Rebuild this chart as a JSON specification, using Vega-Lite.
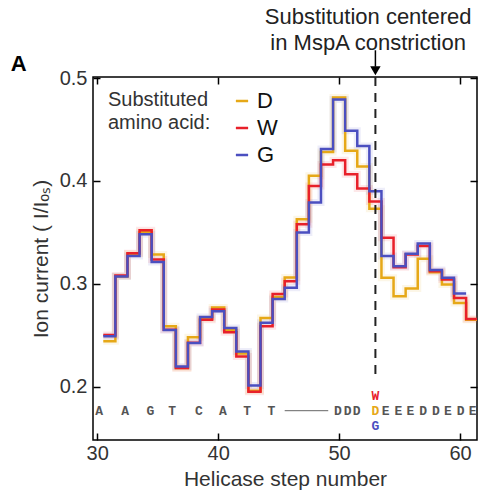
{
  "$schema": "https://vega.github.io/schema/vega-lite/v6.json",
  "width": 384,
  "height": 363,
  "autosize": {"type": "none"},
  "padding": {"left": 93, "top": 77, "right": 7, "bottom": 59},
  "config": {
    "view": {"stroke": "black", "strokeWidth": 1.5},
    "font": "Liberation Sans"
  },
  "datasets": {
    "steps": [
      {"x": 30.5, "D": 0.244, "W": 0.250, "G": 0.249},
      {"x": 31.5, "D": 0.307, "W": 0.308, "G": 0.307},
      {"x": 32.5, "D": 0.329, "W": 0.3295, "G": 0.327},
      {"x": 33.5, "D": 0.350, "W": 0.352, "G": 0.348},
      {"x": 34.5, "D": 0.3285, "W": 0.3236, "G": 0.321},
      {"x": 35.5, "D": 0.2585, "W": 0.2553, "G": 0.255},
      {"x": 36.5, "D": 0.218, "W": 0.218, "G": 0.2195},
      {"x": 37.5, "D": 0.2478, "W": 0.2425, "G": 0.2423},
      {"x": 38.5, "D": 0.266, "W": 0.265, "G": 0.2677},
      {"x": 39.5, "D": 0.2768, "W": 0.275, "G": 0.2732},
      {"x": 40.5, "D": 0.255, "W": 0.2527, "G": 0.257},
      {"x": 41.5, "D": 0.232, "W": 0.2293, "G": 0.234},
      {"x": 42.5, "D": 0.196, "W": 0.195, "G": 0.201},
      {"x": 43.5, "D": 0.2667, "W": 0.2585, "G": 0.262},
      {"x": 44.5, "D": 0.287, "W": 0.290, "G": 0.285},
      {"x": 45.5, "D": 0.306, "W": 0.3024, "G": 0.296},
      {"x": 46.5, "D": 0.3626, "W": 0.3578, "G": 0.3497},
      {"x": 47.5, "D": 0.405, "W": 0.395, "G": 0.379},
      {"x": 48.5, "D": 0.428, "W": 0.416, "G": 0.431},
      {"x": 49.5, "D": 0.481, "W": 0.420, "G": 0.479},
      {"x": 50.5, "D": 0.4293, "W": 0.4065, "G": 0.4488},
      {"x": 51.5, "D": 0.414, "W": 0.3926, "G": 0.434},
      {"x": 52.5, "D": 0.373, "W": 0.380, "G": 0.390},
      {"x": 53.5, "D": 0.3057, "W": 0.3448, "G": 0.327},
      {"x": 54.5, "D": 0.2878, "W": 0.316, "G": 0.317},
      {"x": 55.5, "D": 0.2953, "W": 0.3285, "G": 0.3292},
      {"x": 56.5, "D": 0.3243, "W": 0.3366, "G": 0.339},
      {"x": 57.5, "D": 0.3112, "W": 0.3122, "G": 0.3132},
      {"x": 58.5, "D": 0.2992, "W": 0.304, "G": 0.3057},
      {"x": 59.5, "D": 0.2813, "W": 0.2862, "G": 0.2904},
      {"x": 60.5, "D": 0.265, "W": 0.2657, "G": 0.2904},
      {"x": 61.5, "D": 0.265, "W": 0.2657, "G": null}
    ],
    "seq": [
      {"p": 30.15, "l": "A"}, {"p": 32.3, "l": "A"}, {"p": 34.4, "l": "G"},
      {"p": 36.2, "l": "T"}, {"p": 38.4, "l": "C"}, {"p": 40.4, "l": "A"},
      {"p": 42.4, "l": "T"}, {"p": 44.4, "l": "T"},
      {"p": 49.9, "l": "D"}, {"p": 50.7, "l": "D"}, {"p": 51.45, "l": "D"},
      {"p": 53.85, "l": "E"}, {"p": 54.9, "l": "E"}, {"p": 55.9, "l": "E"},
      {"p": 56.95, "l": "D"}, {"p": 58.0, "l": "D"}, {"p": 59.0, "l": "E"},
      {"p": 60.05, "l": "D"}, {"p": 61.05, "l": "E"}
    ],
    "one": [{}]
  },
  "layer": [
    {
      "data": {"name": "steps"},
      "transform": [{"fold": ["D", "W", "G"], "as": ["sub", "v"]}],
      "mark": {"type": "line", "interpolate": "step-after", "strokeWidth": 7, "opacity": 0.1, "clip": true},
      "encoding": {
        "x": {
          "field": "x", "type": "quantitative",
          "scale": {"domain": [29.65, 61.4], "nice": false, "zero": false},
          "axis": {
            "orient": "bottom", "values": [30, 40, 50, 60], "format": "d",
            "tickSize": -7, "tickWidth": 1.5, "tickColor": "black", "domain": false, "grid": false,
            "labelFontSize": 20, "labelColor": "#333", "labelPadding": 10,
            "title": "Helicase step number", "titleFontSize": 21, "titleFontWeight": "normal",
            "titleColor": "#333", "titlePadding": 5
          }
        },
        "y": {
          "field": "v", "type": "quantitative",
          "scale": {"domain": [0.148, 0.501], "nice": false, "zero": false},
          "axis": {
            "orient": "left", "values": [0.2, 0.3, 0.4, 0.5], "format": ".1f",
            "tickSize": -7, "tickWidth": 1.5, "tickColor": "black", "domain": false, "grid": false,
            "labelFontSize": 20, "labelColor": "#333", "labelPadding": 13,
            "title": "Ion current ( I/Iₒₛ)", "titleFontSize": 21, "titleFontWeight": "normal",
            "titleColor": "#333", "titlePadding": 8
          }
        },
        "color": {
          "field": "sub", "type": "nominal",
          "scale": {"domain": ["D", "W", "G"], "range": ["#e6a817", "#e8202a", "#4b4fc0"]},
          "legend": null
        }
      }
    },
    {
      "data": {"name": "steps"},
      "transform": [{"fold": ["D", "W", "G"], "as": ["sub", "v"]}],
      "mark": {"type": "line", "interpolate": "step-after", "strokeWidth": 2.5, "clip": true},
      "encoding": {
        "x": {
          "field": "x", "type": "quantitative",
          "axis": {
            "orient": "top", "values": [30, 40, 50, 60], "labels": false, "title": null,
            "tickSize": -7, "tickWidth": 1.5, "tickColor": "black", "domain": false, "grid": false
          }
        },
        "y": {
          "field": "v", "type": "quantitative",
          "axis": {
            "orient": "right", "values": [0.2, 0.3, 0.4, 0.5], "labels": false, "title": null,
            "tickSize": -7, "tickWidth": 1.5, "tickColor": "black", "domain": false, "grid": false
          }
        },
        "color": {
          "field": "sub", "type": "nominal",
          "scale": {"domain": ["D", "W", "G"], "range": ["#e6a817", "#e8202a", "#4b4fc0"]},
          "legend": {
            "orient": "none", "legendX": 15, "legendY": 13,
            "title": ["Substituted", "amino acid:"], "titleOrient": "left",
            "titleFontSize": 20, "titleFontWeight": "normal", "titleColor": "#333",
            "titleLineHeight": 23, "titlePadding": 20, "titleBaseline": "top", "titleAnchor": "start",
            "symbolType": "stroke", "symbolSize": 150, "symbolStrokeWidth": 2.5,
            "labelFontSize": 22, "labelColor": "#111", "rowPadding": 5, "labelOffset": 4
          }
        }
      }
    },
    {
      "data": {"name": "one"},
      "mark": {"type": "rule", "strokeDash": [9, 7], "strokeWidth": 2, "color": "#222"},
      "encoding": {
        "x": {"datum": 53, "type": "quantitative", "axis": null},
        "y": {"datum": 0.501, "type": "quantitative", "axis": null},
        "y2": {"datum": 0.207}
      }
    },
    {
      "data": {"name": "one"},
      "mark": {"type": "rule", "strokeWidth": 1.5, "color": "black"},
      "encoding": {
        "x": {"datum": 53, "type": "quantitative", "axis": null},
        "y": {"datum": 0.527, "type": "quantitative", "axis": null},
        "y2": {"datum": 0.511}
      }
    },
    {
      "data": {"name": "one"},
      "mark": {"type": "point", "shape": "triangle-down", "filled": true, "size": 110, "color": "black", "opacity": 1},
      "encoding": {
        "x": {"datum": 53, "type": "quantitative", "axis": null},
        "y": {"datum": 0.507, "type": "quantitative", "axis": null}
      }
    },
    {
      "data": {"name": "one"},
      "mark": {"type": "text", "align": "center", "baseline": "alphabetic", "fontSize": 22, "lineHeight": 26, "color": "#222"},
      "encoding": {
        "x": {"datum": 52.4, "type": "quantitative", "axis": null},
        "y": {"datum": 0.553, "type": "quantitative", "axis": null},
        "text": {"value": ["Substitution centered", "in MspA constriction"]}
      }
    },
    {
      "data": {"name": "one"},
      "mark": {"type": "text", "align": "center", "baseline": "alphabetic", "fontSize": 22, "fontWeight": "bold", "color": "black"},
      "encoding": {
        "x": {"datum": 23.5, "type": "quantitative", "axis": null},
        "y": {"datum": 0.507, "type": "quantitative", "axis": null},
        "text": {"value": "A"}
      }
    },
    {
      "data": {"name": "seq"},
      "mark": {"type": "text", "align": "center", "baseline": "middle", "font": "Liberation Mono", "fontSize": 13, "fontWeight": "bold", "color": "#555"},
      "encoding": {
        "x": {"field": "p", "type": "quantitative", "axis": null},
        "y": {"datum": 0.1765, "type": "quantitative", "axis": null},
        "text": {"field": "l"}
      }
    },
    {
      "data": {"name": "one"},
      "mark": {"type": "rule", "strokeWidth": 1, "color": "#666"},
      "encoding": {
        "x": {"datum": 45.5, "type": "quantitative", "axis": null},
        "x2": {"datum": 49.1},
        "y": {"datum": 0.1765, "type": "quantitative", "axis": null}
      }
    },
    {
      "data": {"name": "one"},
      "mark": {"type": "text", "align": "center", "baseline": "middle", "font": "Liberation Mono", "fontSize": 13, "fontWeight": "bold", "color": "#e8202a"},
      "encoding": {
        "x": {"datum": 53, "type": "quantitative", "axis": null},
        "y": {"datum": 0.1905, "type": "quantitative", "axis": null},
        "text": {"value": "W"}
      }
    },
    {
      "data": {"name": "one"},
      "mark": {"type": "text", "align": "center", "baseline": "middle", "font": "Liberation Mono", "fontSize": 13, "fontWeight": "bold", "color": "#e6a817"},
      "encoding": {
        "x": {"datum": 53, "type": "quantitative", "axis": null},
        "y": {"datum": 0.1765, "type": "quantitative", "axis": null},
        "text": {"value": "D"}
      }
    },
    {
      "data": {"name": "one"},
      "mark": {"type": "text", "align": "center", "baseline": "middle", "font": "Liberation Mono", "fontSize": 13, "fontWeight": "bold", "color": "#4b4fc0"},
      "encoding": {
        "x": {"datum": 53, "type": "quantitative", "axis": null},
        "y": {"datum": 0.1615, "type": "quantitative", "axis": null},
        "text": {"value": "G"}
      }
    }
  ],
  "resolve": {"axis": {"x": "independent", "y": "independent"}, "scale": {"color": "independent"}}
}
